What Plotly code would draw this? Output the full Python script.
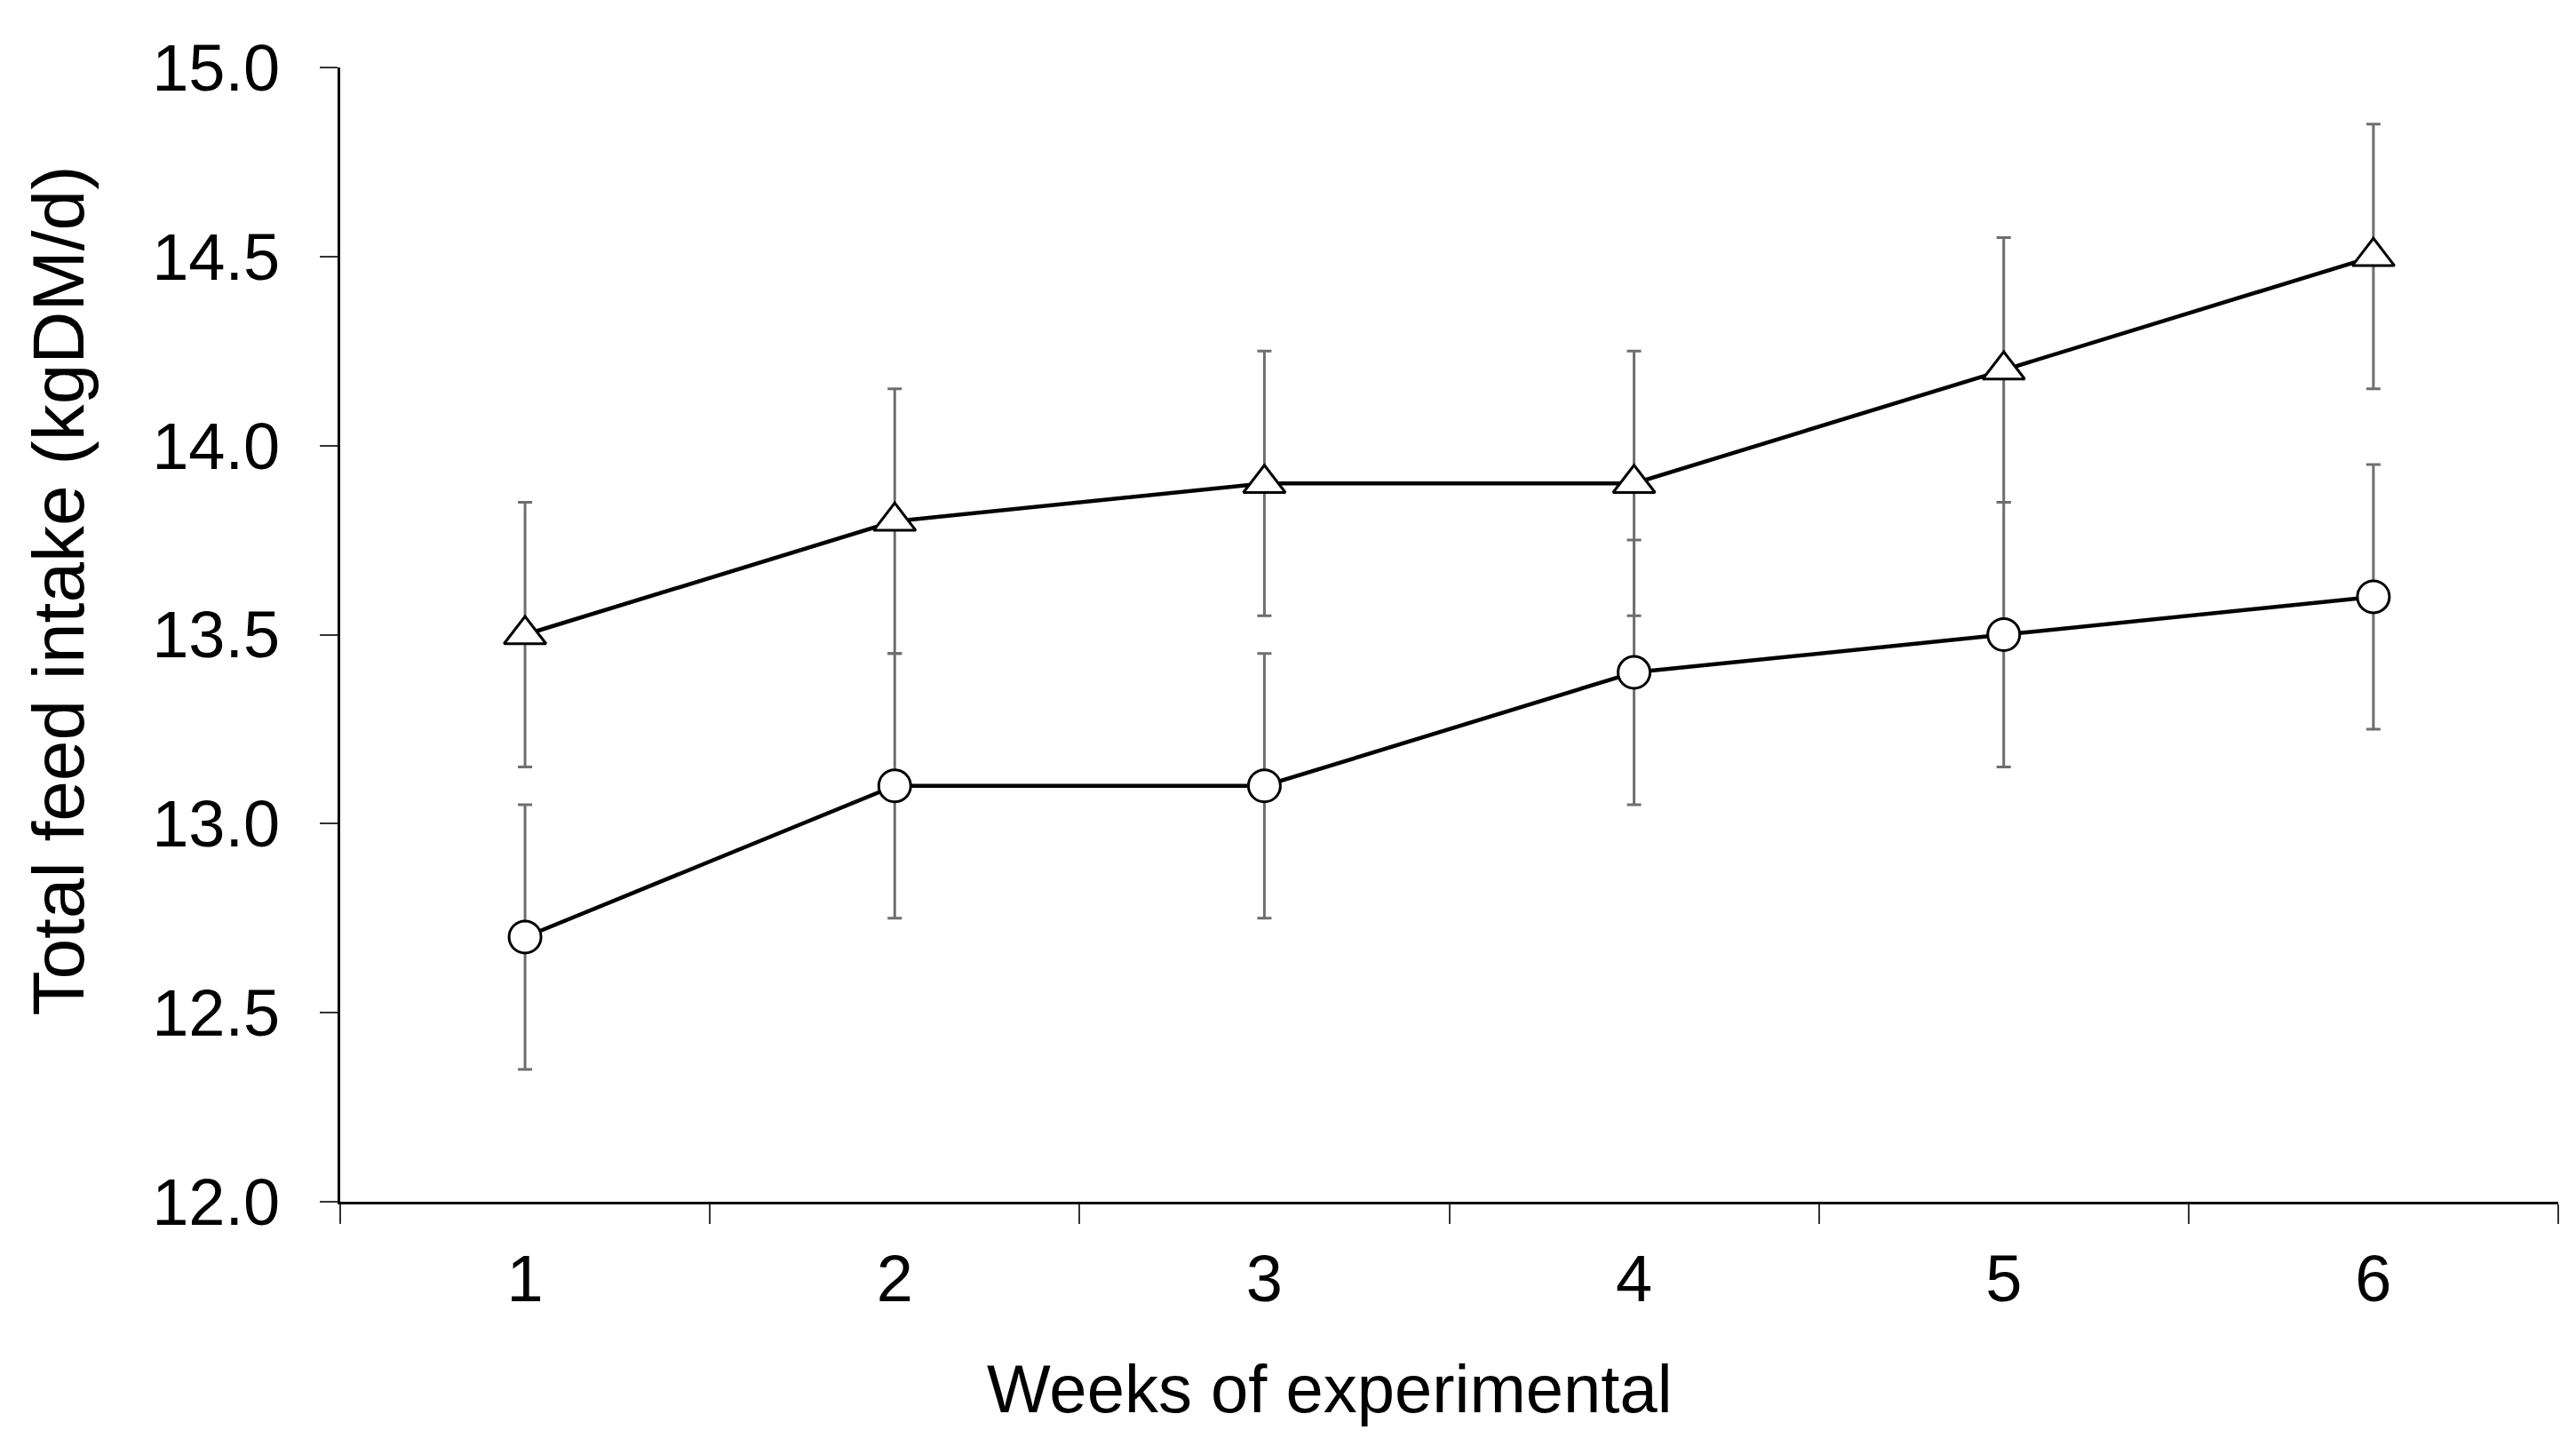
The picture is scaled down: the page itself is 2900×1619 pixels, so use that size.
import plotly.graph_objects as go

# данные
weeks = [1, 2, 3, 4, 5, 6]
triangle_vals = [13.5, 13.8, 13.9, 13.9, 14.2, 14.5]
triangle_err = [0.35, 0.35, 0.35, 0.35, 0.35, 0.35]
circle_vals = [12.7, 13.1, 13.1, 13.4, 13.5, 13.6]
circle_err = [0.35, 0.35, 0.35, 0.35, 0.35, 0.35]
y_ticks = [12.0, 12.5, 13.0, 13.5, 14.0, 14.5, 15.0]
x_minor = [0.5, 1.5, 2.5, 3.5, 4.5, 5.5, 6.5]

FONT = "Liberation Sans, Arial, sans-serif"

fig = go.Figure()

for vals, err, sym, size in [(circle_vals, circle_err, "circle", 36),
                             (triangle_vals, triangle_err, "triangle-up", 41)]:
    fig.add_trace(go.Scatter(
        x=weeks, y=vals, mode="lines+markers",
        line=dict(color="black", width=4.5),
        marker=dict(symbol=sym, size=size, color="white",
                    line=dict(color="black", width=3)),
        error_y=dict(type="data", array=err, color="#6e6e6e",
                     thickness=3, width=8),
        showlegend=False, cliponaxis=False,
    ))

fig.update_xaxes(
    range=[0.5, 6.5], tickvals=weeks, ticktext=[str(w) for w in weeks],
    ticks="", showline=True, linecolor="black", linewidth=3,
    showgrid=False, zeroline=False,
    minor=dict(tickvals=x_minor, ticks="outside", ticklen=22,
               tickwidth=2, tickcolor="#333333", showgrid=False),
    tickfont=dict(family=FONT, size=74, color="black"),
    ticklabelstandoff=20,
)
fig.update_yaxes(
    range=[12, 15], tickvals=y_ticks, ticktext=[f"{v:.1f}" for v in y_ticks],
    ticks="outside", ticklen=20, tickwidth=2, tickcolor="#333333",
    showline=True, linecolor="black", linewidth=3,
    showgrid=False, zeroline=False,
    tickfont=dict(family=FONT, size=74, color="black"),
    ticklabelstandoff=30,
)

# подписи осей (смещены как в оригинале)
fig.add_annotation(text="Weeks of experimental", xref="paper", yref="paper",
                   x=0.446, y=-0.165, xanchor="center", yanchor="middle",
                   showarrow=False,
                   font=dict(family=FONT, size=76, color="black"))
fig.add_annotation(text="Total feed intake (kgDM/d)", xref="paper", yref="paper",
                   x=-0.127, y=0.539, xanchor="center", yanchor="middle",
                   textangle=-90, showarrow=False,
                   font=dict(family=FONT, size=82, color="black"))

fig.update_layout(
    width=2900, height=1619,
    margin=dict(l=375, r=28, t=68, b=274),
    plot_bgcolor="white", paper_bgcolor="white",
)

fig.write_html("out.html")
